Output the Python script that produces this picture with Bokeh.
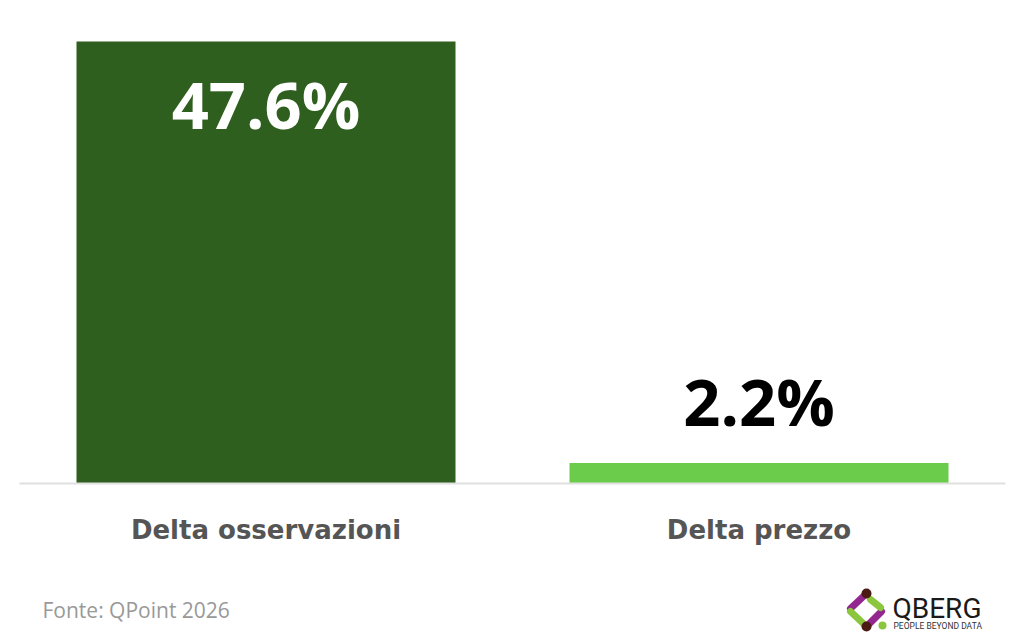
from bokeh.plotting import figure
from bokeh.models import FactorRange, Range1d, ColumnDataSource
from bokeh.core.properties import value
from bokeh.embed import file_html
from bokeh.resources import INLINE

# ---- data ----
categories = ["Delta osservazioni", "Delta prezzo"]
values = [47.6, 2.2]
value_labels = ["47.6%", "2.2%"]
source_note = "Fonte: QPoint 2026"

# ---- styles ----
bar_colors = ["#2e5f1e", "#6acc4a"]
label_colors = ["#ffffff", "#000000"]
label_offsets = [62, -62]

W, H = 1024, 636
LEFT, RIGHT = 19, 1005          # pixel extent of the category band
BASE, TOP = 483, 41             # pixel y of 0 and of the max value
cat_px = (RIGHT - LEFT) / len(categories)
px_per_unit = (BASE - TOP) / max(values)

x_range = FactorRange(factors=categories, range_padding=LEFT / cat_px,
                      range_padding_units="absolute")
y_range = Range1d(-(H - BASE) / px_per_unit, BASE / px_per_unit)

p = figure(width=W, height=H, x_range=x_range, y_range=y_range,
           output_backend="svg", toolbar_location=None,
           x_axis_location=None, y_axis_location=None, min_border=0)
p.outline_line_color = None
p.xgrid.visible = False
p.ygrid.visible = False
p.background_fill_color = "#ffffff"
p.border_fill_color = "#ffffff"

def dx(px):
    return (px - LEFT) / cat_px

def dy(py):
    return (BASE - py) / px_per_unit

src = ColumnDataSource(dict(cat=categories, val=values, lab=value_labels,
                            color=bar_colors, lcolor=label_colors,
                            off=label_offsets))

p.vbar(x="cat", top="val", bottom=0, width=379 / cat_px, color="color",
       source=src, line_color=None)

# baseline
p.segment(x0=[0], x1=[len(categories)], y0=[0], y1=[0],
          line_color="#e0e0e0", line_width=2)

# value labels
p.text(x="cat", y="val", text="lab", source=src, text_color="lcolor",
       y_offset="off", text_align="center", text_baseline="middle",
       text_font=value("Open Sans"), text_font_size="65px",
       text_font_style="bold")

# category labels
p.text(x="cat", y=0, text="cat", source=src, text_color="#555555",
       y_offset=46, text_align="center", text_baseline="middle",
       text_font=value("DejaVu Sans"), text_font_size="26px",
       text_font_style="bold")

# source note
p.text(x=[dx(42)], y=[dy(609)], text=[source_note], text_color="#999999",
       text_align="left", text_baseline="middle",
       text_font=value("Open Sans"), text_font_size="21px")

# logo
purple, green, dark = "#93278f", "#8cc63f", "#4b1a14"
cx, cy, r = 866, 610, 16
p.segment(x0=[dx(cx - r), dx(cx + r - 1)], y0=[dy(cy - 2), dy(cy + 1)],
          x1=[dx(cx), dx(cx)], y1=[dy(cy - r - 1), dy(cy + r)],
          line_color=purple, line_width=7, line_cap="round")
p.segment(x0=[dx(cx - r), dx(cx + 4)], y0=[dy(cy + 1), dy(cy - r + 5)],
          x1=[dx(cx), dx(cx + r - 2)], y1=[dy(cy + r), dy(cy - 3)],
          line_color=green, line_width=7, line_cap="round")
p.scatter(x=[dx(cx), dx(cx)], y=[dy(cy - r - 1), dy(cy + r)], size=10,
          color=dark, line_color=None)
p.scatter(x=[dx(882)], y=[dy(625)], size=8, color=green, line_color=None)
p.text(x=[dx(892)], y=[dy(608)], text=["QBERG"], text_color="#1a1a1a",
       text_align="left", text_baseline="middle",
       text_font=value("Roboto"), text_font_size="28px")
p.text(x=[dx(893)], y=[dy(625)], text=["PEOPLE BEYOND DATA"],
       text_color="#333333", text_align="left", text_baseline="middle",
       text_font=value("Roboto"), text_font_size="8.5px")

open("out.html", "w").write(file_html(p, INLINE))
